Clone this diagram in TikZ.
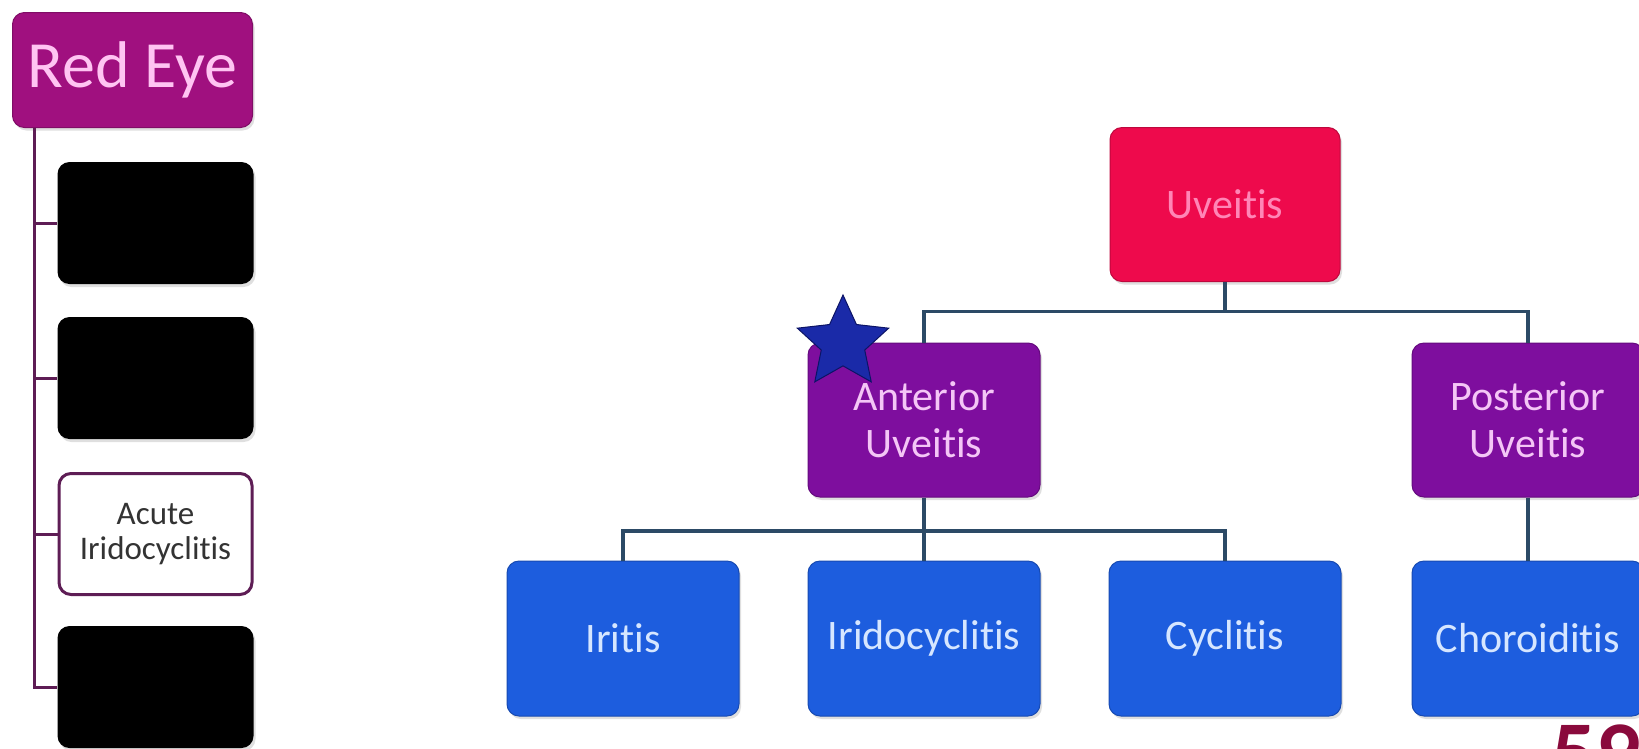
\documentclass[tikz,border=0pt]{standalone}
\usepackage{fontspec}
\setmainfont{Carlito}[Ligatures=NoCommon]
\usetikzlibrary{shapes.geometric,shadows}
\definecolor{redeye}{HTML}{A0107F}
\definecolor{redeyetxt}{HTML}{FFC4F2}
\definecolor{leftline}{HTML}{5E1D55}
\definecolor{uvfill}{HTML}{EE0A4C}
\definecolor{uvtxt}{HTML}{FF86B6}
\definecolor{purfill}{HTML}{7E0E9E}
\definecolor{purtxt}{HTML}{F4C6F6}
\definecolor{bluefill}{HTML}{1D5DDE}
\definecolor{bluetxt}{HTML}{D6E6FF}
\definecolor{conn}{HTML}{2C4A66}
\definecolor{starfill}{HTML}{1A2AA8}
\definecolor{starline}{HTML}{0C1466}
\definecolor{pagenum}{HTML}{8A0A3C}
\tikzset{
  basebox/.style={rectangle, rounded corners=12pt, inner sep=0pt, align=center,
    drop shadow={shadow xshift=2pt, shadow yshift=-3pt, opacity=0.25}},
  redeyebox/.style={basebox, fill=redeye, draw=redeye!80!black, line width=1pt,
    text=redeyetxt, minimum width=240pt, minimum height=115pt,
    font=\fontsize{66}{72}\selectfont},
  hiddenbox/.style={basebox, fill=black, minimum width=196pt, minimum height=122pt},
  acutebox/.style={rectangle, rounded corners=12pt, inner sep=0pt, align=center,
    fill=white, draw=leftline, line width=3pt, text=black!80,
    minimum width=193pt, minimum height=121pt, font=\fontsize{33}{35}\selectfont},
  uvbox/.style={basebox, fill=uvfill, draw=uvfill!80!black, line width=1pt, text=uvtxt,
    minimum width=230pt, minimum height=154pt, font=\fontsize{42}{47}\selectfont},
  purbox/.style={basebox, fill=purfill, draw=purfill!80!black, line width=1pt, text=purtxt,
    minimum width=232pt, minimum height=154pt, font=\fontsize{42}{47}\selectfont},
  bluebox/.style={basebox, fill=bluefill, draw=bluefill!80!black, line width=1pt, text=bluetxt,
    minimum width=232pt, minimum height=155pt, font=\fontsize{42}{47}\selectfont},
  leftconn/.style={draw=leftline, line width=3pt},
  rightconn/.style={draw=conn, line width=3.5pt},
  starshape/.style={star, star points=5, star point ratio=2.1, minimum size=96pt,
    inner sep=0pt, fill=starfill, draw=starline, line width=1pt}
}
\begin{document}
\begin{tikzpicture}[x=1pt,y=-1pt]
\useasboundingbox (0,0) rectangle (1639,748);
\clip (0,0) rectangle (1639,748);
\fill[white] (0,0) rectangle (1639,748);

% left column
\node[redeyebox] (redeye) at (132.5,70) {Red Eye};
\node[hiddenbox] (h1) at (155.5,223) {};
\node[hiddenbox] (h2) at (155.5,378) {};
\node[acutebox] (acute) at (155.5,534) {Acute\\Iridocyclitis};
\node[hiddenbox] (h4) at (155.5,687) {};

\coordinate (lt) at (34.5,0);
\draw[leftconn] (redeye.south -| lt) -- (h4.west -| lt) -- (h4.west);
\draw[leftconn] (h1.west -| lt) -- (h1.west);
\draw[leftconn] (h2.west -| lt) -- (h2.west);
\draw[leftconn] (acute.west -| lt) -- (acute.west);

% right tree
\node[uvbox] (uv) at (1225,204.5) {Uveitis};
\node[purbox] (ant) at (924,420) {Anterior\\Uveitis};
\node[purbox] (post) at (1528,420) {Posterior\\Uveitis};
\node[bluebox] (iritis) at (623,638.5) {Iritis};
\node[bluebox] (irido) at (924,638.5) {Iridocyclitis};
\node[bluebox] (cyc) at (1225,638.5) {Cyclitis};
\node[bluebox] (chor) at (1528,638.5) {Choroiditis};

\coordinate (j1) at (0,311.5);
\coordinate (j2) at (0,531);
\draw[rightconn] (uv.south) -- (uv.south |- j1);
\draw[rightconn] (ant.north) -- (ant.north |- j1) -- (post.north |- j1) -- (post.north);
\draw[rightconn] (ant.south) -- (ant.south |- j2);
\draw[rightconn] (iritis.north) -- (iritis.north |- j2) -- (cyc.north |- j2) -- (cyc.north);
\draw[rightconn] (irido.north) -- (irido.north |- j2);
\draw[rightconn] (post.south) -- (chor.north);

\node[starshape] (star) at (843,343) {};

\node[anchor=north east, inner sep=0pt, text=pagenum,
  font=\fontsize{88}{90}\selectfont\bfseries] (pnum) at (1641,725) {59};
\end{tikzpicture}
\end{document}
